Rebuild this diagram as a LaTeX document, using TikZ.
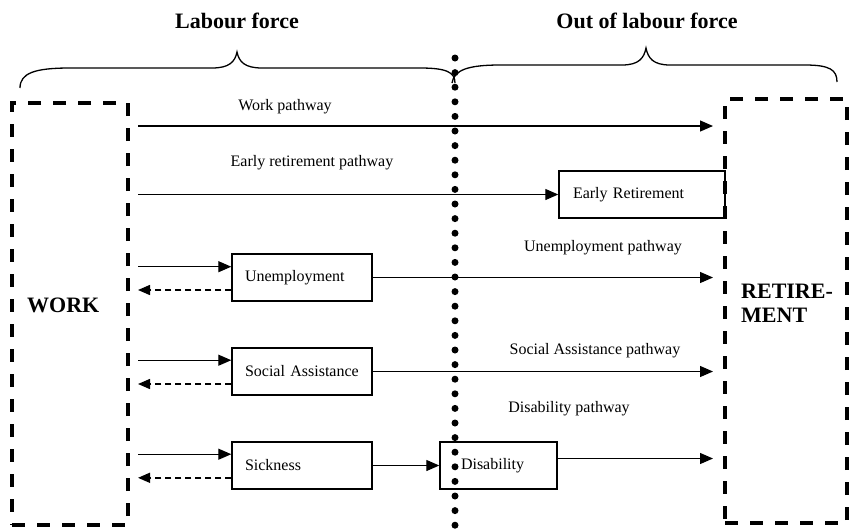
\documentclass[tikz,border=0pt]{standalone}
\usepackage{fontspec}
\setmainfont{Liberation Serif}
\usetikzlibrary{arrows.meta}
\begin{document}
\begin{tikzpicture}[x=1pt,y=-1pt,
  txt/.style={inner sep=0pt,font=\fontsize{16pt}{19pt}\selectfont},
  ttl/.style={inner sep=0pt,font=\fontsize{22pt}{24pt}\selectfont\bfseries},
  bigbox/.style={draw,line width=3.2pt,dash pattern=on 13pt off 12pt,inner sep=0pt},
  pbox/.style={draw,line width=1.4pt,inner ysep=0pt,align=left,
    font=\fontsize{16pt}{19pt}\selectfont,minimum height=47pt},
  arr/.style={line width=1.2pt,-{Triangle[length=13pt,width=11pt]}},
  darr/.style={line width=1.4pt,dash pattern=on 6pt off 4pt,-{Triangle[length=12pt,width=10pt]}},
  brc/.style={line width=1.3pt}]
\useasboundingbox (0,0) rectangle (849,531);

% titles
\node[ttl] (tlab) at (237,21) {Labour force};
\node[ttl] (tout) at (647,21) {Out of labour force};

% braces
\draw[brc] (20,88) .. controls (20,73) and (35,68) .. (70,68) -- (212,68)
  .. controls (229,68) and (235,62) .. (237,52)
  .. controls (239,62) and (245,68) .. (262,68) -- (420,68)
  .. controls (446,68) and (455,72) .. (455,83);
\draw[brc] (452,83) .. controls (454,70) and (468,65) .. (500,65) -- (622,65)
  .. controls (639,65) and (644,58) .. (646,48)
  .. controls (648,58) and (653,65) .. (670,65) -- (805,65)
  .. controls (830,65) and (837,70) .. (837,82);

% dotted divider
\draw[line width=7pt,line cap=round,dash pattern=on 0pt off 14.6pt] (455,58) -- (455,540);

% big boxes
\node[bigbox,minimum width=116pt,minimum height=422pt] (work) at (70,314) {};
\node[bigbox,minimum width=122pt,minimum height=424pt] (ret) at (786,311) {};
\node[ttl,anchor=west] (worklbl) at (27,305) {WORK};
\node[ttl,anchor=west,align=left] (retlbl) at (741,303) {RETIRE-\\MENT};

% state boxes
\node[pbox,minimum width=140pt,text width=114pt,inner xsep=13pt] (un) at (302,277.5) {Unemployment};
\node[pbox,minimum width=140pt,text width=114pt,inner xsep=13pt] (sa) at (302,371.5) {Social Assistance};
\node[pbox,minimum width=140pt,text width=114pt,inner xsep=13pt] (sk) at (302,465.5) {Sickness};
\node[pbox,minimum width=117pt,text width=75pt,inner xsep=21pt] (dis) at (498.5,465.5) {Disability};
\node[pbox,minimum width=166pt,text width=138pt,inner xsep=14pt] (er) at (642,194.5) {Early Retirement};

% free ends
\coordinate (wx) at (138,0);
\coordinate (rx) at (713,0);
\coordinate (wpS) at (138,126);
\coordinate (wpE) at (713,126);

% pathway labels
\node[txt] (lwp) at (285,107) {Work pathway};
\node[txt] (lerp) at (312,163) {Early retirement pathway};
\node[txt] (lup) at (603,248) {Unemployment pathway};
\node[txt] (lsap) at (595,351) {Social Assistance pathway};
\node[txt] (ldp) at (569,409) {Disability pathway};

% pathways
\draw[arr] (wpS) -- (wpE);
\draw[arr] (wx |- er.west) -- (er.west);
\draw[arr] (un.east) -- (rx |- un.east);
\draw[arr] (sa.east) -- (rx |- sa.east);
\coordinate (disO) at ([yshift=7pt]dis.east);
\draw[arr] (disO) -- (rx |- disO);
\draw[arr] (sk.east) -- (dis.west);

% in/out arrows
\coordinate (unI) at ([yshift=10.8pt]un.west);
\coordinate (unO) at ([yshift=-12.5pt]un.west);
\coordinate (saI) at ([yshift=11.3pt]sa.west);
\coordinate (saO) at ([yshift=-12.5pt]sa.west);
\coordinate (skI) at ([yshift=11.3pt]sk.west);
\coordinate (skO) at ([yshift=-12.3pt]sk.west);
\draw[arr] (wx |- unI) -- (unI);
\draw[darr] (unO) -- (wx |- unO);
\draw[arr] (wx |- saI) -- (saI);
\draw[darr] (saO) -- (wx |- saO);
\draw[arr] (wx |- skI) -- (skI);
\draw[darr] (skO) -- (wx |- skO);
\end{tikzpicture}
\end{document}
